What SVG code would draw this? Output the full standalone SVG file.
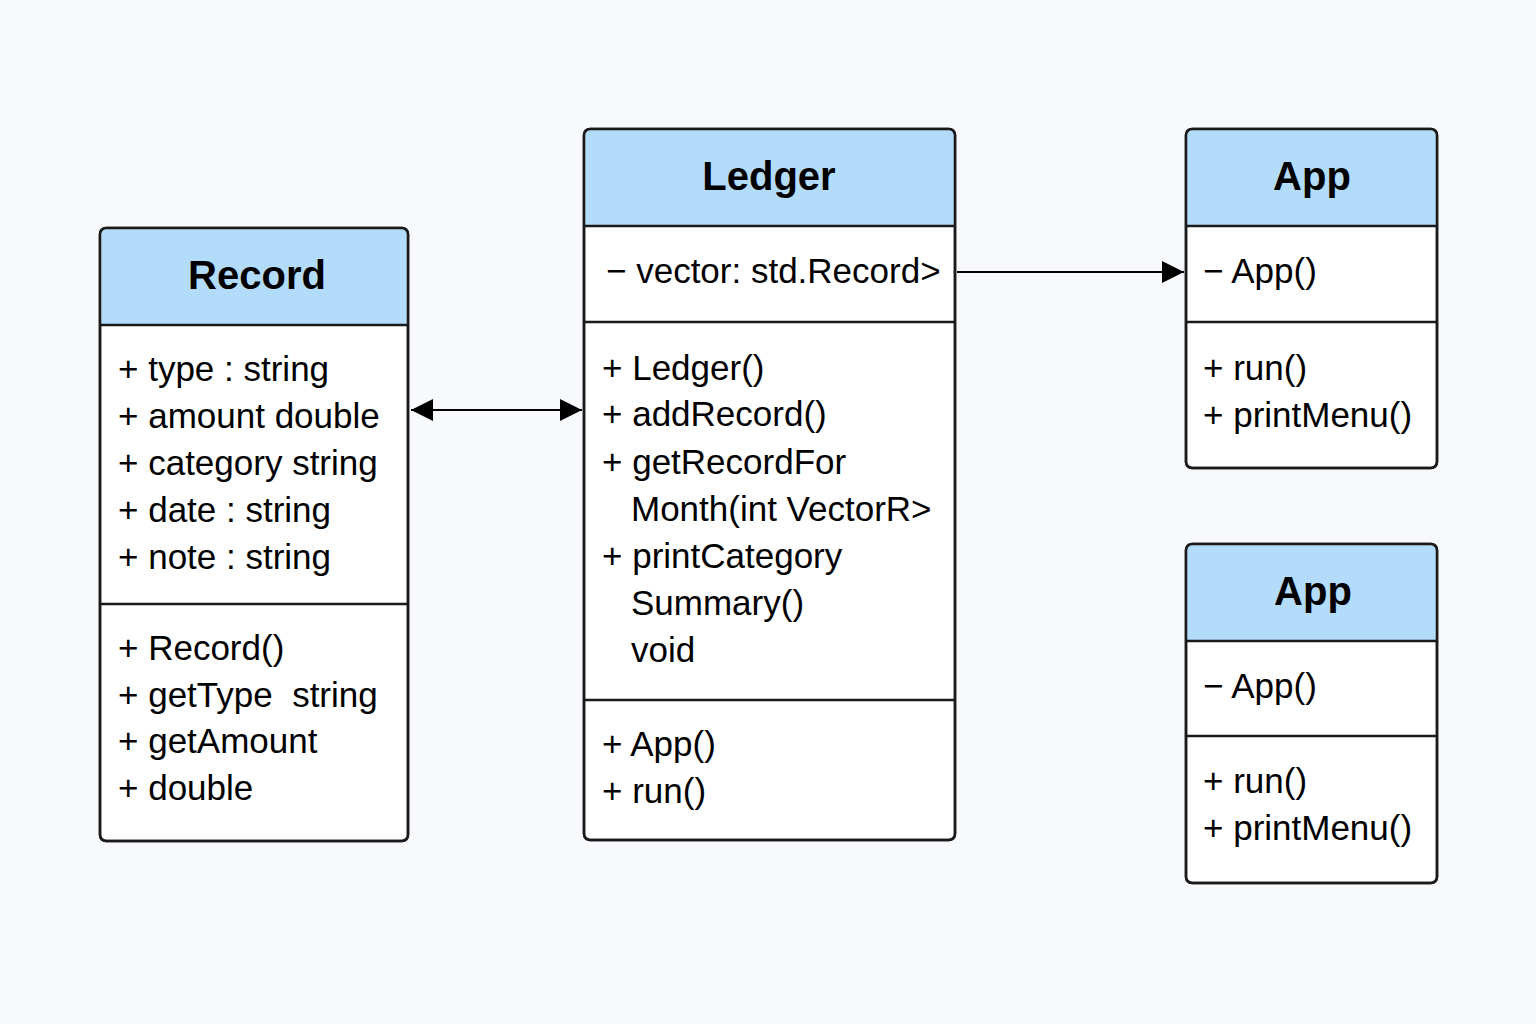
<svg xmlns="http://www.w3.org/2000/svg" width="1536" height="1024" viewBox="0 0 1536 1024">
<defs>
<style>
.box{fill:#ffffff;stroke:#1a1a1a;stroke-width:2.5}
.hdr{fill:#b3dcfb}
.div{stroke:#1a1a1a;stroke-width:2.5}
.title{font-family:"Liberation Sans",Arial,sans-serif;font-weight:bold;font-size:40px;fill:#000;text-anchor:middle}
.t{font-family:"Liberation Sans",Arial,sans-serif;font-size:35px;fill:#000}
.conn{stroke:#000;stroke-width:2.2;fill:none}
</style>
<marker id="ahL" viewBox="0 0 10 10" refX="10" refY="5" markerWidth="10" markerHeight="10" orient="auto-start-reverse">
<path d="M0,0 L10,5 L0,10 z" fill="#000"/>
</marker>
</defs>
<rect width="1536" height="1024" fill="#f7f9fc"/>

<g id="record">
<rect class="box" x="100" y="228" width="308" height="613" rx="6"/>
<path class="hdr" d="M106,229.3 H402 A5,5 0 0 1 406.7,234 V325 H101.3 V234 A5,5 0 0 1 106,229.3 z"/>
<rect x="100" y="228" width="308" height="613" rx="6" fill="none" stroke="#1a1a1a" stroke-width="2.5"/>
<line class="div" x1="100" y1="325" x2="408" y2="325"/>
<line class="div" x1="100" y1="604" x2="408" y2="604"/>
<text class="title" x="257" y="289">Record</text>
<text class="t" x="118" y="381">+ type : string</text>
<text class="t" x="118" y="428">+ amount double</text>
<text class="t" x="118" y="475">+ category string</text>
<text class="t" x="118" y="522">+ date : string</text>
<text class="t" x="118" y="569">+ note : string</text>
<text class="t" x="118" y="660">+ Record()</text>
<text class="t" x="118" y="707" xml:space="preserve">+ getType  string</text>
<text class="t" x="118" y="753">+ getAmount</text>
<text class="t" x="118" y="800">+ double</text>
</g>

<g id="ledger">
<rect class="box" x="584" y="129" width="371" height="711" rx="6"/>
<path class="hdr" d="M590,130.3 H949 A5,5 0 0 1 953.7,135 V226 H585.3 V135 A5,5 0 0 1 590,130.3 z"/>
<rect x="584" y="129" width="371" height="711" rx="6" fill="none" stroke="#1a1a1a" stroke-width="2.5"/>
<line class="div" x1="584" y1="226" x2="955" y2="226"/>
<line class="div" x1="584" y1="322" x2="955" y2="322"/>
<line class="div" x1="584" y1="700" x2="955" y2="700"/>
<text class="title" x="769" y="190">Ledger</text>
<text class="t" x="606" y="283">− vector: std.Record&gt;</text>
<text class="t" x="602" y="380">+ Ledger()</text>
<text class="t" x="602" y="426">+ addRecord()</text>
<text class="t" x="602" y="474">+ getRecordFor</text>
<text class="t" x="631" y="521">Month(int VectorR&gt;</text>
<text class="t" x="602" y="568">+ printCategory</text>
<text class="t" x="631" y="615">Summary()</text>
<text class="t" x="631" y="662">void</text>
<text class="t" x="602" y="756">+ App()</text>
<text class="t" x="602" y="803">+ run()</text>
</g>

<g id="app1">
<rect class="box" x="1186" y="129" width="251" height="339" rx="6"/>
<path class="hdr" d="M1192,130.3 H1431 A5,5 0 0 1 1435.7,135 V226 H1187.3 V135 A5,5 0 0 1 1192,130.3 z"/>
<rect x="1186" y="129" width="251" height="339" rx="6" fill="none" stroke="#1a1a1a" stroke-width="2.5"/>
<line class="div" x1="1186" y1="226" x2="1437" y2="226"/>
<line class="div" x1="1186" y1="322" x2="1437" y2="322"/>
<text class="title" x="1312" y="190">App</text>
<text class="t" x="1203" y="283">− App()</text>
<text class="t" x="1203" y="380">+ run()</text>
<text class="t" x="1203" y="427">+ printMenu()</text>
</g>

<g id="app2">
<rect class="box" x="1186" y="544" width="251" height="339" rx="6"/>
<path class="hdr" d="M1192,545.3 H1431 A5,5 0 0 1 1435.7,550 V641 H1187.3 V550 A5,5 0 0 1 1192,545.3 z"/>
<rect x="1186" y="544" width="251" height="339" rx="6" fill="none" stroke="#1a1a1a" stroke-width="2.5"/>
<line class="div" x1="1186" y1="641" x2="1437" y2="641"/>
<line class="div" x1="1186" y1="736" x2="1437" y2="736"/>
<text class="title" x="1313" y="605">App</text>
<text class="t" x="1203" y="698">− App()</text>
<text class="t" x="1203" y="793">+ run()</text>
<text class="t" x="1203" y="840">+ printMenu()</text>
</g>

<g id="connectors">
<line class="conn" x1="411" y1="410" x2="582" y2="410" marker-start="url(#ahL)" marker-end="url(#ahL)"/>
<line class="conn" x1="957" y1="272" x2="1184" y2="272" marker-end="url(#ahL)"/>
</g>
</svg>
